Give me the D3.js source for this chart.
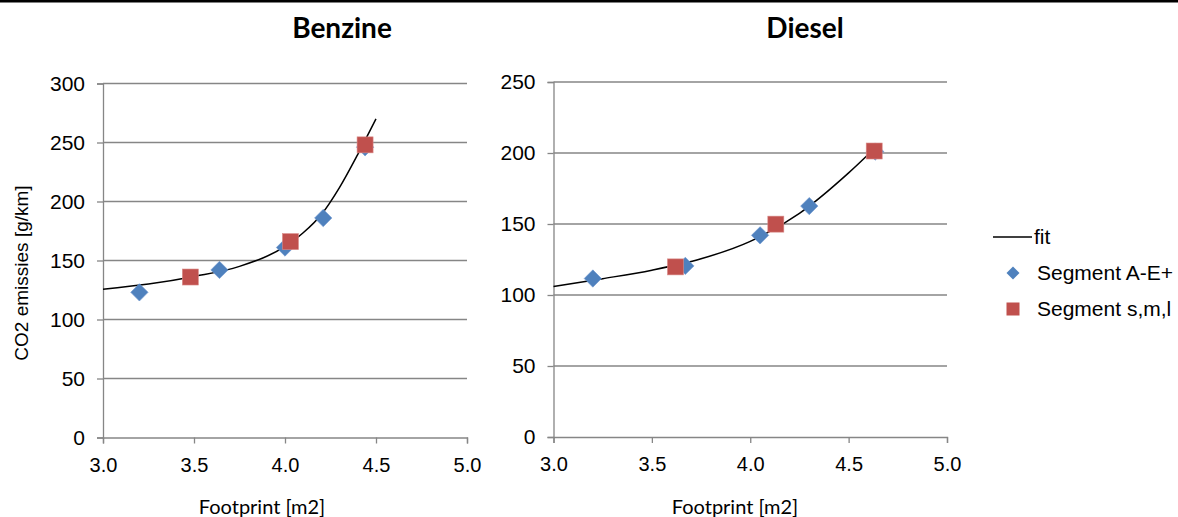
<!DOCTYPE html>
<html>
<head>
<meta charset="utf-8">
<script src="https://cdn.jsdelivr.net/npm/d3@7"></script>
<style>
  body { margin: 0; background: #fff; }
  svg { display: block; }
</style>
</head>
<body>
<svg id="chart"></svg>
<script>
var width = 1178, height = 517

// Benzine
var benzineAEX = [3.20, 3.64, 4.00, 4.21, 4.44]
var benzineAEY = [123, 142, 161, 186, 246]
var benzineSmlX = [3.48, 4.03, 4.44]
var benzineSmlY = [136, 166, 248]
var benzineFitX = [3.0, 3.25, 3.5, 3.75, 4.0, 4.1, 4.2, 4.3, 4.4, 4.5]
var benzineFitY = [125.7, 130, 136.5, 145, 162, 173.5, 189, 212, 240, 270]

// Diesel
var dieselAEX = [3.20, 3.67, 4.05, 4.30, 4.635]
var dieselAEY = [111.6, 120.5, 142, 162.6, 201]
var dieselSmlX = [3.62, 4.13, 4.63]
var dieselSmlY = [119.8, 149.9, 201.4]
var dieselFitX = [3.0, 3.25, 3.5, 3.75, 4.0, 4.25, 4.5, 4.63]
var dieselFitY = [106, 111.5, 117.5, 125.5, 137.8, 157.5, 186, 203]

var xTicks = [3.0, 3.5, 4.0, 4.5, 5.0]
var benzineYTicks = [0, 50, 100, 150, 200, 250, 300]
var dieselYTicks = [0, 50, 100, 150, 200, 250]

var legendLabels = ["fit", "Segment A-E+", "Segment s,m,l"]

var blue = "#4f81bd", red = "#c0504d", grid = "#868686"

var svg = d3.select("#chart")
    .attr("width", width)
    .attr("height", height)

// thin black rule along the top edge
svg.append("rect")
    .attr("x", 0).attr("y", 0)
    .attr("width", width).attr("height", 2.5)
    .attr("fill", "#000")

function zip(xs, ys) {
    return xs.map(function(x, i) { return [x, ys[i]] })
}

function panel(opt) {
    var x = d3.scaleLinear().domain([3, 5]).range([opt.left, opt.right])
    var y = d3.scaleLinear().domain([0, d3.max(opt.yTicks)]).range([opt.bottom, opt.top])
    var g = svg.append("g")

    // gridlines
    g.selectAll(".grid")
        .data(opt.yTicks.slice(1))
        .enter().append("line")
            .attr("x1", opt.left).attr("x2", opt.right)
            .attr("y1", d => y(d)).attr("y2", d => y(d))
            .attr("stroke", grid).attr("stroke-width", 1.3)

    var yAxis = g.append("g")
        .attr("transform", "translate(" + opt.left + ",0)")
        .call(d3.axisLeft(y).tickValues(opt.yTicks).tickSize(6).tickPadding(12))
    yAxis.select(".domain").attr("stroke", grid).attr("stroke-width", 1.3)
    yAxis.selectAll(".tick line").attr("stroke", grid).attr("stroke-width", 1.3)
    yAxis.selectAll("text")
        .attr("fill", "#000")
        .style("font-family", "Liberation Sans, Arial, sans-serif")
        .style("font-size", "21px")

    var xAxis = g.append("g")
        .attr("transform", "translate(0," + opt.bottom + ")")
        .call(d3.axisBottom(x).tickValues(xTicks).tickFormat(d3.format(".1f")).tickSize(6))
    xAxis.select(".domain").attr("stroke", grid).attr("stroke-width", 1.3)
    xAxis.selectAll(".tick line").attr("stroke", grid).attr("stroke-width", 1.3)
    xAxis.selectAll("text")
        .attr("fill", "#000")
        .attr("y", 34).attr("dy", null)
        .style("font-family", "Liberation Sans, Arial, sans-serif")
        .style("font-size", "20px")

    // fit
    var line = d3.line()
        .x(d => x(d[0]))
        .y(d => y(d[1]))
        .curve(d3.curveMonotoneX)
    g.append("path")
        .datum(zip(opt.fitX, opt.fitY))
        .attr("d", line)
        .attr("fill", "none")
        .attr("stroke", "#000")
        .attr("stroke-width", 1.5)

    g.selectAll(".ae")
        .data(zip(opt.aeX, opt.aeY))
        .enter().append("path")
            .attr("d", d3.symbol(d3.symbolSquare, 150))
            .attr("transform", d => "translate(" + x(d[0]) + "," + y(d[1]) + ") rotate(45)")
            .attr("fill", blue)
            .attr("stroke", "#6f97cf").attr("stroke-width", 0.6)

    g.selectAll(".sml")
        .data(zip(opt.smlX, opt.smlY))
        .enter().append("rect")
            .attr("x", d => x(d[0]) - 8)
            .attr("y", d => y(d[1]) - 8)
            .attr("width", 16).attr("height", 16)
            .attr("fill", red)
            .attr("stroke", "#d98a88").attr("stroke-width", 0.6)

    g.append("text")
        .attr("x", opt.titleX).attr("y", 38)
        .attr("text-anchor", "middle")
        .style("font-family", "Lato, sans-serif")
        .style("font-weight", "bold")
        .style("font-size", "28px")
        .text(opt.title)

    g.append("text")
        .attr("x", opt.xTitleX).attr("y", 514)
        .attr("text-anchor", "middle")
        .style("font-family", "Lato, sans-serif")
        .style("font-size", "20px")
        .text("Footprint [m2]")
}

panel({
    title: "Benzine", titleX: 342, xTitleX: 262,
    left: 103, right: 467, top: 83.5, bottom: 437.5,
    yTicks: benzineYTicks,
    aeX: benzineAEX, aeY: benzineAEY,
    smlX: benzineSmlX, smlY: benzineSmlY,
    fitX: benzineFitX, fitY: benzineFitY
})

panel({
    title: "Diesel", titleX: 805, xTitleX: 735,
    left: 553.5, right: 947, top: 82, bottom: 437,
    yTicks: dieselYTicks,
    aeX: dieselAEX, aeY: dieselAEY,
    smlX: dieselSmlX, smlY: dieselSmlY,
    fitX: dieselFitX, fitY: dieselFitY
})

svg.append("text")
    .attr("transform", "translate(28,273) rotate(-90)")
    .attr("text-anchor", "middle")
    .style("font-family", "Liberation Sans, Arial, sans-serif")
    .style("font-size", "19px")
    .text("CO2 emissies [g/km]")

// legend
var legend = svg.append("g").attr("transform", "translate(993,0)")
legend.append("line")
    .attr("x1", 0).attr("x2", 39)
    .attr("y1", 237).attr("y2", 237)
    .attr("stroke", "#000").attr("stroke-width", 1.5)
legend.append("path")
    .attr("d", d3.symbol(d3.symbolSquare, 85))
    .attr("transform", "translate(20,273) rotate(45)")
    .attr("fill", blue)
legend.append("rect")
    .attr("x", 13.5).attr("y", 302.5)
    .attr("width", 13).attr("height", 13)
    .attr("fill", red)
legend.selectAll(".lab")
    .data(legendLabels)
    .enter().append("text")
        .attr("x", (d, i) => i === 0 ? 41 : 44)
        .attr("y", (d, i) => [244, 280, 316][i])
        .style("font-family", "Liberation Sans, Arial, sans-serif")
        .style("font-size", "21px")
        .text(d => d)
</script>
</body>
</html>
